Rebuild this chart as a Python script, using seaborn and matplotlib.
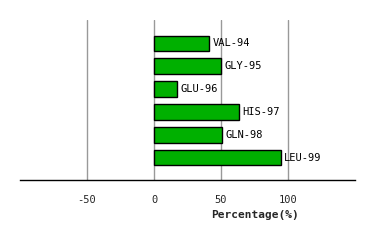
import matplotlib
matplotlib.use("Agg")
import matplotlib.pyplot as plt
import seaborn as sns
import pandas as pd

residues = ["VAL-94", "GLY-95", "GLU-96", "HIS-97", "GLN-98", "LEU-99"]
percentages = [41, 50, 17.5, 63.5, 51, 94.5]
x_ticks = [-50, 0, 50, 100]

sns.set_style("white")
plt.rcParams['font.family'] = ['DejaVu Sans Mono', 'DejaVu Sans']

df = pd.DataFrame({"residue": residues, "pct": percentages})

fig = plt.figure(figsize=(3.74, 2.40), dpi=100)
ax = fig.add_axes([20/374, 60/240, 335/374, 160/240])

for t in x_ticks:
    ax.axvline(t, color="#999999", linewidth=1, zorder=0)

sns.barplot(data=df, x="pct", y="residue", orient="h", color="#00b000",
            edgecolor="black", linewidth=1, width=0.68, saturation=1, ax=ax, zorder=2)

for i, (r, p) in enumerate(zip(residues, percentages)):
    ax.text(p + 2.5, i, r, va="center", ha="left", fontsize=7.5, color="black")

ax.set_xlim(-100, 150)
ax.set_ylim(5.98, -1.02)
ax.set_xticks(x_ticks)
ax.set_xticklabels([str(t) for t in x_ticks], fontsize=7.5)
ax.tick_params(axis="x", length=0, pad=11)
ax.set_yticks([])
ax.set_ylabel("")
ax.set_xlabel("")
for s in ["top", "right", "left"]:
    ax.spines[s].set_visible(False)
ax.spines["bottom"].set_color("black")
ax.spines["bottom"].set_linewidth(1)

ax.text(75, -0.22, "Percentage(%)", transform=ax.get_xaxis_transform(),
        ha="center", va="center", fontsize=8, fontweight="bold")

fig.savefig("out.png", dpi=100)
